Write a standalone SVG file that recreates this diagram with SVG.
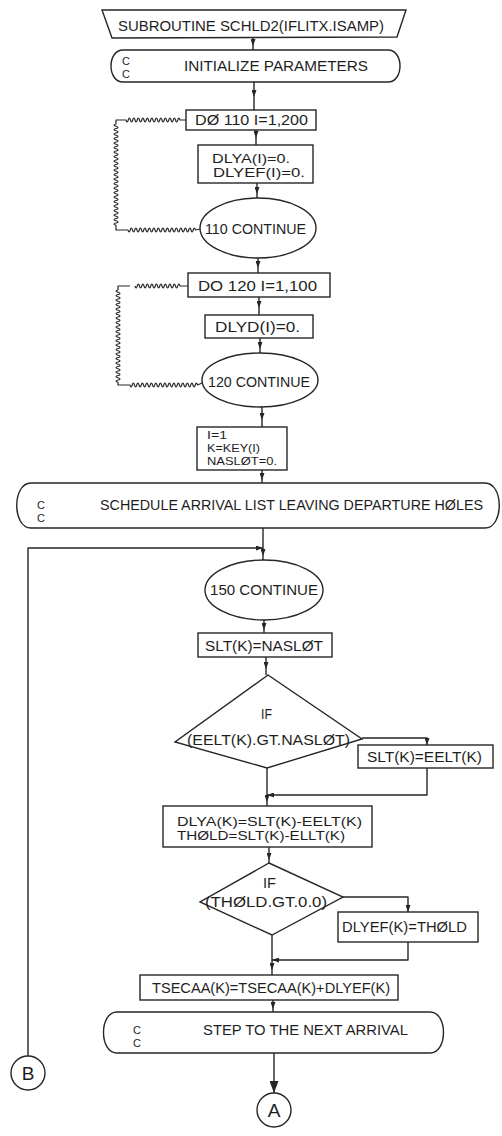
<svg xmlns="http://www.w3.org/2000/svg" width="502" height="1136" viewBox="0 0 502 1136">
  <style>
    .ln { fill: none; stroke: #262626; stroke-width: 1.4; stroke-linejoin: round; }
    .wv { fill: none; stroke: #262626; stroke-width: 1.2; stroke-linejoin: round; }
    .shp { fill: #ffffff; stroke: #262626; stroke-width: 1.4; }
    .t { font-family: "Liberation Sans", Arial, sans-serif; font-size: 14px; fill: #1e1e1e; }
    .m { font-family: "Liberation Sans", Arial, sans-serif; font-size: 12.5px; fill: #1e1e1e; }
    .s { font-family: "Liberation Sans", Arial, sans-serif; font-size: 11.5px; fill: #1e1e1e; }
    .c { font-family: "Liberation Sans", Arial, sans-serif; font-size: 11px; fill: #1e1e1e; }
    .big { font-family: "Liberation Sans", Arial, sans-serif; font-size: 19px; fill: #1e1e1e; text-anchor: middle; }
  </style>
  <defs>
    <marker id="arr" viewBox="0 0 7 5" refX="7" refY="2.5" markerWidth="7" markerHeight="5" markerUnits="userSpaceOnUse" orient="auto">
      <path d="M0,0 L7,2.5 L0,5 z" fill="#262626"/>
    </marker>
    <marker id="arrBig" viewBox="0 0 12 9" refX="12" refY="4.5" markerWidth="12" markerHeight="9" markerUnits="userSpaceOnUse" orient="auto">
      <path d="M0,0 L12,4.5 L0,9 z" fill="#262626"/>
    </marker>
  </defs>
  <rect width="502" height="1136" fill="#ffffff"/>

  <!-- connectors -->
  <g id="connectors">
    <path class="ln" marker-mid="url(#arr)" d="M253 37 V46 V50"/>
    <path class="ln" marker-mid="url(#arr)" d="M254 82 V97 V110"/>
    <path class="ln" marker-mid="url(#arr)" d="M256 130 V138 V145"/>
    <path class="ln" marker-mid="url(#arr)" d="M257 183 V194 V198"/>
    <path class="ln" marker-mid="url(#arr)" d="M258 258 V268 V273"/>
    <path class="ln" marker-mid="url(#arr)" d="M259 297 V308 V315"/>
    <path class="ln" marker-mid="url(#arr)" d="M260 338 V349 V353"/>
    <path class="ln" marker-mid="url(#arr)" d="M262 407 V420 V427"/>
    <path class="ln" marker-mid="url(#arr)" d="M262 470 V480 V483"/>
    <path class="ln" marker-mid="url(#arr)" d="M263 528 V556 V560"/>
    <path class="ln" marker-mid="url(#arr)" d="M264 620 V630 V633"/>
    <path class="ln" marker-mid="url(#arr)" d="M266 657 V669 V675"/>
    <path class="ln" marker-mid="url(#arr)" d="M267 768 V802 V806"/>
    <path class="ln" marker-mid="url(#arr)" d="M269 847 V860 V863"/>
    <path class="ln" marker-mid="url(#arr)" d="M272 935 V970 V975"/>
    <path class="ln" marker-mid="url(#arr)" d="M273 1000 V1009 V1012"/>
    <path class="ln" marker-end="url(#arrBig)" d="M274 1053 V1093"/>

    <!-- IF branches -->
    <path class="ln" marker-end="url(#arr)" d="M362 738 H427 V745"/>
    <path class="ln" marker-end="url(#arr)" d="M427 768 V795 H267"/>
    <path class="ln" marker-end="url(#arr)" d="M343 897 H408 V912"/>
    <path class="ln" marker-end="url(#arr)" d="M408 942 V960 H272"/>

    <!-- return path from connector B -->
    <path class="ln" marker-end="url(#arr)" d="M28 1056 V548 H263"/>

    <!-- DO 110 loop range -->
    <path class="wv" d="M186 120 H180 q-1.12 -4 -2.25 0 t-2.25 0 t-2.25 0 t-2.25 0 t-2.25 0 t-2.25 0 t-2.25 0 t-2.25 0 t-2.25 0 t-2.25 0 t-2.25 0 t-2.25 0 t-2.25 0 t-2.25 0 t-2.25 0 t-2.25 0 t-2.25 0 t-2.25 0 t-2.25 0 t-2.25 0 t-2.25 0 t-2.25 0 t-2.25 0 t-2.25 0 H116 V124 q-4 1.12 0 2.25 t0 2.25 t0 2.25 t0 2.25 t0 2.25 t0 2.25 t0 2.25 t0 2.25 t0 2.25 t0 2.25 t0 2.25 t0 2.25 t0 2.25 t0 2.25 t0 2.25 t0 2.25 t0 2.25 t0 2.25 t0 2.25 t0 2.25 t0 2.25 t0 2.25 t0 2.25 t0 2.25 t0 2.25 t0 2.25 t0 2.25 t0 2.25 t0 2.25 t0 2.25 t0 2.25 t0 2.25 t0 2.25 t0 2.25 t0 2.25 t0 2.25 t0 2.25 t0 2.25 t0 2.25 t0 2.25 t0 2.25 t0 2.25 t0 2.25 t0 2.25 t0 2.25 V230 H128 q1.12 4 2.25 0 t2.25 0 t2.25 0 t2.25 0 t2.25 0 t2.25 0 t2.25 0 t2.25 0 t2.25 0 t2.25 0 t2.25 0 t2.25 0 t2.25 0 t2.25 0 t2.25 0 t2.25 0 t2.25 0 t2.25 0 t2.25 0 t2.25 0 t2.25 0 t2.25 0 t2.25 0 t2.25 0 t2.25 0 t2.25 0 t2.25 0 t2.25 0 t2.25 0 t2.25 0 L200 229"/>

    <!-- DO 120 loop range -->
    <path class="wv" d="M188 286 H180 q-1.12 -4 -2.25 0 t-2.25 0 t-2.25 0 t-2.25 0 t-2.25 0 t-2.25 0 t-2.25 0 t-2.25 0 t-2.25 0 t-2.25 0 t-2.25 0 t-2.25 0 t-2.25 0 t-2.25 0 t-2.25 0 t-2.25 0 t-2.25 0 t-2.25 0 t-2.25 0 t-2.25 0 M130 286 H118 V290 q-4 1.12 0 2.25 t0 2.25 t0 2.25 t0 2.25 t0 2.25 t0 2.25 t0 2.25 t0 2.25 t0 2.25 t0 2.25 t0 2.25 t0 2.25 t0 2.25 t0 2.25 t0 2.25 t0 2.25 t0 2.25 t0 2.25 t0 2.25 t0 2.25 t0 2.25 t0 2.25 t0 2.25 t0 2.25 t0 2.25 t0 2.25 t0 2.25 t0 2.25 t0 2.25 t0 2.25 t0 2.25 t0 2.25 t0 2.25 t0 2.25 t0 2.25 t0 2.25 t0 2.25 t0 2.25 t0 2.25 t0 2.25 t0 2.25 V385 H130 q1.12 4 2.25 0 t2.25 0 t2.25 0 t2.25 0 t2.25 0 t2.25 0 t2.25 0 t2.25 0 t2.25 0 t2.25 0 t2.25 0 t2.25 0 t2.25 0 t2.25 0 t2.25 0 t2.25 0 t2.25 0 t2.25 0 t2.25 0 t2.25 0 t2.25 0 t2.25 0 t2.25 0 t2.25 0 t2.25 0 t2.25 0 t2.25 0 t2.25 0 t2.25 0 t2.25 0 L202 383"/>
  </g>

  <g id="n_title">
    <polygon class="shp" points="102,10 406,10 397,37 112,38"/>
    <text class="t" x="118" y="31" textLength="266" lengthAdjust="spacingAndGlyphs">SUBROUTINE SCHLD2(IFLITX.ISAMP)</text>
  </g>

  <g id="n_init">
    <path class="shp" d="M123 50 H388 C404 50 404 82 388 82 H123 C107 82 107 50 123 50 Z"/>
    <text class="c" x="122" y="65">C</text>
    <text class="c" x="122" y="78">C</text>
    <text class="t" x="184" y="71" textLength="184" lengthAdjust="spacingAndGlyphs">INITIALIZE PARAMETERS</text>
  </g>

  <g id="n_do110">
    <rect class="shp" x="186" y="110" width="130" height="20"/>
    <text class="t" x="195" y="125" textLength="113" lengthAdjust="spacingAndGlyphs">DØ 110 I=1,200</text>
  </g>

  <g id="n_init_dlya">
    <rect class="shp" x="198" y="145" width="115" height="38"/>
    <text class="m" x="212" y="163" textLength="78" lengthAdjust="spacingAndGlyphs">DLYA(I)=0.</text>
    <text class="m" x="213" y="177" textLength="92" lengthAdjust="spacingAndGlyphs">DLYEF(I)=0.</text>
  </g>

  <g id="n_110">
    <ellipse class="shp" cx="258" cy="228" rx="58" ry="30"/>
    <text class="t" x="205" y="234" textLength="101" lengthAdjust="spacingAndGlyphs">110 CONTINUE</text>
  </g>

  <g id="n_do120">
    <rect class="shp" x="188" y="273" width="142" height="24"/>
    <text class="t" x="198" y="291" textLength="119" lengthAdjust="spacingAndGlyphs">DO 120 I=1,100</text>
  </g>

  <g id="n_init_dlyd">
    <rect class="shp" x="205" y="315" width="108" height="23"/>
    <text class="t" x="215" y="332" textLength="85" lengthAdjust="spacingAndGlyphs">DLYD(I)=0.</text>
  </g>

  <g id="n_120">
    <ellipse class="shp" cx="260" cy="380" rx="58" ry="27"/>
    <text class="t" x="208" y="387" textLength="102" lengthAdjust="spacingAndGlyphs">120 CONTINUE</text>
  </g>

  <g id="n_start">
    <rect class="shp" x="197" y="427" width="90" height="43"/>
    <text class="s" x="207" y="439" textLength="20" lengthAdjust="spacingAndGlyphs">I=1</text>
    <text class="s" x="207" y="452" textLength="53" lengthAdjust="spacingAndGlyphs">K=KEY(I)</text>
    <text class="s" x="207" y="465" textLength="70" lengthAdjust="spacingAndGlyphs">NASLØT=0.</text>
  </g>

  <g id="n_schedule">
    <path class="shp" d="M31 483 H485 C504 483 504 528 485 528 H31 C12 528 12 483 31 483 Z"/>
    <text class="c" x="37" y="509">C</text>
    <text class="c" x="37" y="522">C</text>
    <text class="t" x="100" y="510" textLength="383" lengthAdjust="spacingAndGlyphs">SCHEDULE ARRIVAL LIST LEAVING DEPARTURE HØLES</text>
  </g>

  <g id="n_150">
    <ellipse class="shp" cx="264" cy="590" rx="59" ry="30"/>
    <text class="t" x="210" y="595" textLength="108" lengthAdjust="spacingAndGlyphs">150 CONTINUE</text>
  </g>

  <g id="n_slt">
    <rect class="shp" x="198" y="633" width="134" height="24"/>
    <text class="t" x="205" y="651" textLength="118" lengthAdjust="spacingAndGlyphs">SLT(K)=NASLØT</text>
  </g>

  <g id="n_if1">
    <polygon class="shp" points="268,675 362,739 267,768 175,742"/>
    <text class="t" x="261" y="719" textLength="11" lengthAdjust="spacingAndGlyphs">IF</text>
    <text class="t" x="187" y="745" textLength="163" lengthAdjust="spacingAndGlyphs">(EELT(K).GT.NASLØT)</text>
  </g>

  <g id="n_slt_eelt">
    <rect class="shp" x="358" y="745" width="135" height="23"/>
    <text class="t" x="367" y="762" textLength="115" lengthAdjust="spacingAndGlyphs">SLT(K)=EELT(K)</text>
  </g>

  <g id="n_delay">
    <rect class="shp" x="163" y="806" width="209" height="41"/>
    <text class="m" x="177" y="826" textLength="185" lengthAdjust="spacingAndGlyphs">DLYA(K)=SLT(K)-EELT(K)</text>
    <text class="m" x="177" y="840" textLength="168" lengthAdjust="spacingAndGlyphs">THØLD=SLT(K)-ELLT(K)</text>
  </g>

  <g id="n_if2">
    <polygon class="shp" points="269,863 343,897 272,935 200,902"/>
    <text class="t" x="263" y="888" textLength="13" lengthAdjust="spacingAndGlyphs">IF</text>
    <text class="t" x="205" y="907" textLength="122" lengthAdjust="spacingAndGlyphs">(THØLD.GT.0.0)</text>
  </g>

  <g id="n_dlyef">
    <rect class="shp" x="338" y="912" width="140" height="30"/>
    <text class="t" x="342" y="932" textLength="125" lengthAdjust="spacingAndGlyphs">DLYEF(K)=THØLD</text>
  </g>

  <g id="n_tsecaa">
    <rect class="shp" x="140" y="975" width="258" height="25"/>
    <text class="t" x="152" y="993" textLength="238" lengthAdjust="spacingAndGlyphs">TSECAA(K)=TSECAA(K)+DLYEF(K)</text>
  </g>

  <g id="n_step">
    <path class="shp" d="M117 1012 H430 C448 1012 448 1053 430 1053 H117 C99 1053 99 1012 117 1012 Z"/>
    <text class="c" x="133" y="1034">C</text>
    <text class="c" x="133" y="1047">C</text>
    <text class="t" x="203" y="1035" textLength="205" lengthAdjust="spacingAndGlyphs">STEP TO THE NEXT ARRIVAL</text>
  </g>

  <g id="n_B">
    <circle class="shp" cx="28" cy="1073" r="17"/>
    <text class="big" x="28" y="1080">B</text>
  </g>

  <g id="n_A">
    <circle class="shp" cx="274" cy="1110" r="17"/>
    <text class="big" x="274" y="1117">A</text>
  </g>
</svg>
